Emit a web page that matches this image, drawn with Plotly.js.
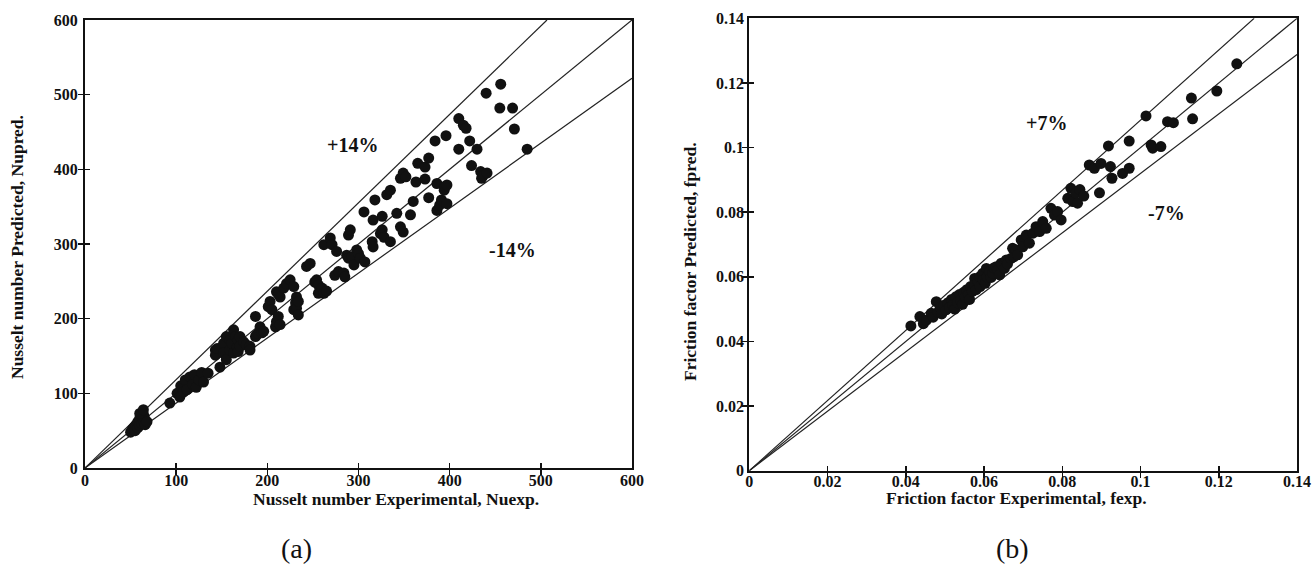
<!DOCTYPE html>
<html>
<head>
<meta charset="utf-8">
<script src="https://cdn.plot.ly/plotly-3.0.1.min.js"></script>
<style>
  html, body { margin: 0; padding: 0; background: #fff; }
  #chart { width: 1312px; height: 574px; }
</style>
</head>
<body>
<div id="chart"></div>
<script>
// (a) Nusselt number: experimental vs predicted
const nuExp = [50,52,54,55,56,58,58,60,60,62,62,64,64,65,66,68,60,64,
  93,101,104,105,108,110,112,115,118,120,122,125,128,130,135,
  143,143,145,148,152,152,155,155,159,159,161,163,163,165,167,168,168,170,170,174,177,181,181,187,187,188,190,192,194,196,
  201,203,205,209,210,210,212,212,214,214,218,221,225,229,229,231,232,232,234,234,
  243,247,252,254,256,256,260,262,265,262,269,271,274,276,278,284,285,287,289,289,291,293,295,298,300,302,306,307,
  315,316,316,318,324,326,326,328,331,335,335,342,346,346,349,349,352,357,360,
  363,365,373,373,377,377,384,386,386,389,391,394,395,396,397,397,410,410,415,418,422,424,430,434,435,437,440,441,455,456,469,471,485];
const nuPred = [48,52,55,50,58,54,62,57,66,60,70,63,72,68,58,62,73,78,
  87,100,95,110,102,118,105,122,112,125,108,118,128,115,127,
  158,151,160,135,167,154,145,176,171,158,167,185,154,176,162,171,156,176,163,169,165,163,158,176,203,178,180,189,181,183,
  216,223,212,189,196,236,203,233,192,229,241,247,252,243,212,221,214,229,223,205,
  270,274,249,252,245,234,241,234,237,299,308,299,258,290,263,261,256,285,281,312,319,283,272,292,287,281,343,276,
  303,296,332,359,314,319,337,309,366,372,303,341,323,388,316,395,390,339,357,
  383,408,403,387,415,362,438,381,345,352,359,372,377,445,379,354,427,468,459,455,438,405,427,397,388,392,502,395,482,514,482,454,427];

// (b) Friction factor: experimental vs predicted
const fExp = [0.0413,0.0436,0.0445,0.0453,0.0465,0.0470,0.0478,0.0482,0.0488,0.0492,0.0498,0.0503,0.0508,0.0512,0.0517,0.0520,0.0525,0.0528,
  0.0532,0.0537,0.0540,0.0545,0.0548,0.0552,0.0556,0.0560,0.0563,0.0566,0.0570,0.0576,0.0576,0.0580,0.0585,0.0589,0.0590,0.0597,0.0598,
  0.0603,0.0606,0.0608,0.0614,0.0618,0.0622,0.0626,0.0631,0.0635,0.0640,0.0644,0.0652,0.0657,0.0660,0.0669,0.0673,0.0676,0.0682,0.0686,
  0.0695,0.0699,0.0708,0.0716,0.0725,0.0733,0.0742,0.0750,0.0759,0.0771,0.0780,0.0788,0.0797,0.0814,0.0822,0.0827,0.0835,0.0839,0.0845,
  0.0855,0.0869,0.0882,0.0895,0.0899,0.0918,0.0923,0.0927,0.0954,0.0971,0.0971,0.1014,0.1027,0.1031,0.1052,0.1069,0.1084,0.1130,0.1133,
  0.1195,0.1246];
const fPred = [0.0448,0.0477,0.0455,0.0466,0.0487,0.0475,0.0523,0.0490,0.0505,0.0485,0.0512,0.0498,0.0520,0.0505,0.0530,0.0512,0.0500,0.0538,
  0.0520,0.0545,0.0528,0.0515,0.0552,0.0537,0.0560,0.0545,0.0530,0.0570,0.0555,0.0595,0.0575,0.0560,0.0585,0.0600,0.0570,0.0611,0.0590,
  0.0580,0.0626,0.0600,0.0616,0.0598,0.0611,0.0628,0.0631,0.0621,0.0606,0.0642,0.0626,0.0652,0.0640,0.0657,0.0688,0.0662,0.0683,0.0668,
  0.0714,0.0693,0.0729,0.0704,0.0735,0.0755,0.0740,0.0771,0.0750,0.0812,0.0791,0.0802,0.0776,0.0843,0.0874,0.0833,0.0859,0.0828,0.0870,
  0.0850,0.0946,0.0936,0.0860,0.0951,0.1005,0.0941,0.0905,0.0920,0.1020,0.0936,0.1098,0.1008,0.0998,0.1003,0.1080,0.1077,0.1153,0.1089,
  0.1175,0.1259];

// Agreement bands: slopes of the upper, parity and lower guide lines
const nuBand = [1.184, 1.0, 0.87];
const fBand = [1.085, 1.0, 0.92];
const nuBandLabels = ['+14%', '-14%'];
const fBandLabels = ['+7%', '-7%'];

const serif = 'Liberation Serif, Times New Roman, serif';
const ink = '#111';

function guide(slope, max, xa, ya) {
  const xEnd = Math.min(max, max / slope);
  return {
    x: [0, xEnd], y: [0, xEnd * slope], xaxis: xa, yaxis: ya,
    mode: 'lines', line: {color: '#222', width: 1.2},
    hoverinfo: 'skip', showlegend: false
  };
}

const markerStyle = {color: ink, size: 11, line: {width: 0}};

const traces = [
  ...nuBand.map(s => guide(s, 600, 'x', 'y')),
  ...fBand.map(s => guide(s, 0.14, 'x2', 'y2')),
  {x: nuExp, y: nuPred, xaxis: 'x', yaxis: 'y', type: 'scatter', mode: 'markers',
   marker: markerStyle, showlegend: false},
  {x: fExp, y: fPred, xaxis: 'x2', yaxis: 'y2', type: 'scatter', mode: 'markers',
   marker: markerStyle, showlegend: false}
];

// Frame axes with ticks that cross the axis line (inside major + outside minor at the same step)
function axis(domain, range, dtick, anchor, labelStandoff) {
  return {
    domain: domain, range: range, anchor: anchor,
    dtick: dtick, tick0: 0,
    showgrid: false, zeroline: false,
    showline: true, linecolor: ink, linewidth: 2, mirror: true,
    ticks: 'inside', ticklen: 5, tickwidth: 1.5, tickcolor: ink,
    minor: {ticks: 'outside', ticklen: 5, tickwidth: 1.5, tickcolor: ink, dtick: dtick, tick0: 0, showgrid: false},
    tickfont: {family: serif, size: 16, color: ink, weight: 'bold'},
    ticklabelstandoff: labelStandoff,
    ticklabeloverflow: 'allow',
    automargin: false, fixedrange: true
  };
}

const labelFont = {family: serif, size: 20, color: ink, weight: 'bold'};
const titleFont = {family: serif, size: 17.5, color: ink, weight: 'bold'};
const captionFont = {family: serif, size: 28, color: ink};

function paperText(px, py, text, font, angle) {
  return {x: px / 1312, y: 1 - py / 574, xref: 'paper', yref: 'paper', text: text,
          showarrow: false, xanchor: 'center', yanchor: 'middle', font: font, textangle: angle || 0};
}

const layout = {
  width: 1312, height: 574,
  margin: {l: 0, r: 0, t: 0, b: 0},
  paper_bgcolor: '#fff', plot_bgcolor: '#fff',
  showlegend: false,
  xaxis: axis([0.0648, 0.4817], [0, 600], 100, 'y', -3),
  yaxis: axis([0.1847, 0.9652], [0, 600], 100, 'x', 2),
  xaxis2: axis([0.5711, 0.9886], [0, 0.14], 0.02, 'y2', -5),
  yaxis2: axis([0.18, 0.9681], [0, 0.14], 0.02, 'x2', 0),
  annotations: [
    {x: 293, y: 432, xref: 'x', yref: 'y', text: nuBandLabels[0], showarrow: false, font: labelFont},
    {x: 469, y: 292, xref: 'x', yref: 'y', text: nuBandLabels[1], showarrow: false, font: labelFont},
    {x: 0.0759, y: 0.1076, xref: 'x2', yref: 'y2', text: fBandLabels[0], showarrow: false, font: labelFont},
    {x: 0.1066, y: 0.0797, xref: 'x2', yref: 'y2', text: fBandLabels[1], showarrow: false, font: labelFont},
    paperText(396, 499, 'Nusselt number Experimental, Nuexp.', titleFont),
    paperText(17, 247, 'Nusselt number Predicted, Nupred.', titleFont, -90),
    paperText(1016, 498, 'Friction factor Experimental, fexp.', titleFont),
    paperText(690, 262, 'Friction factor Predicted, fpred.', titleFont, -90),
    paperText(296, 548, '(a)', captionFont),
    paperText(1012, 548, '(b)', captionFont)
  ]
};

Plotly.newPlot('chart', traces, layout, {staticPlot: true, displayModeBar: false});
</script>
</body>
</html>
